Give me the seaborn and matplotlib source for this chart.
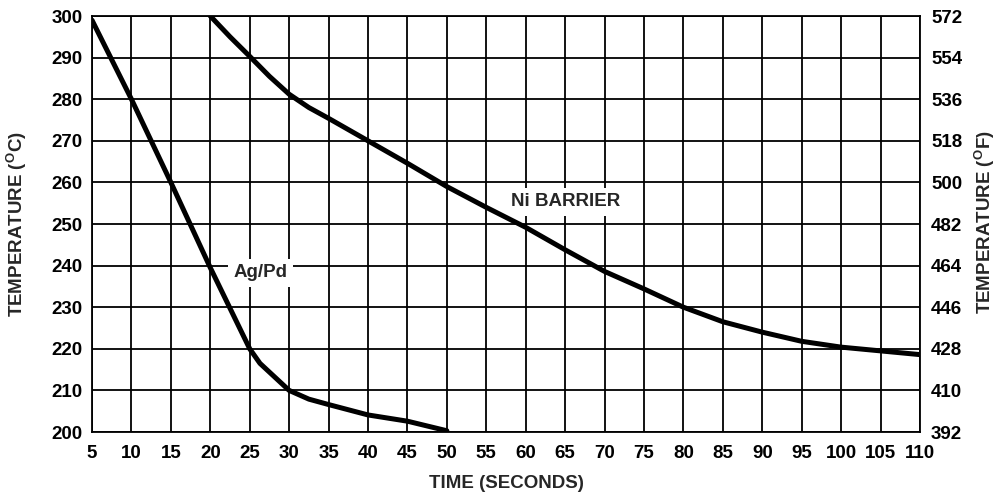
import matplotlib
matplotlib.use("Agg")
import matplotlib.pyplot as plt
import seaborn as sns
import pandas as pd
import numpy as np

# Data
agpd_time = [5, 10, 15, 20, 25, 26.3, 30, 32.5, 35, 40, 45, 50]
agpd_temp = [299, 280, 260, 239.5, 220, 216.5, 210, 207.9, 206.6, 204.1, 202.6, 200.3]
ni_time = [20, 22.5, 25, 27.5, 30, 32.5, 35, 40, 45, 50, 55, 60, 65, 70, 75, 80, 85, 90, 95, 100, 105, 110]
ni_temp = [300, 295, 290.3, 285.5, 281.2, 278, 275.4, 270, 264.6, 259, 254, 249.2, 243.8,
           238.6, 234.4, 230, 226.5, 224, 221.8, 220.4, 219.5, 218.6]
x_ticks = list(range(5, 111, 5))
c_ticks = list(range(200, 301, 10))
f_ticks = [392, 410, 428, 446, 464, 482, 500, 518, 536, 554, 572]

sns.set_style("white")
plt.rcParams["font.family"] = ["Liberation Sans", "DejaVu Sans"]
plt.rcParams["font.weight"] = "bold"
plt.rcParams["mathtext.fontset"] = "custom"
plt.rcParams["mathtext.rm"] = "Liberation Sans:bold"
plt.rcParams["mathtext.bf"] = "Liberation Sans:bold"

FS = 13.5

df = pd.concat([
    pd.DataFrame({"time": agpd_time, "temp": agpd_temp, "series": "Ag/Pd"}),
    pd.DataFrame({"time": ni_time, "temp": ni_temp, "series": "Ni BARRIER"}),
])

fig = plt.figure(figsize=(10, 4.94), dpi=100)
ax = fig.add_axes([0.092, 0.1255, 0.828, 0.8421])

for name in ["Ag/Pd", "Ni BARRIER"]:
    sub = df[df.series == name]
    sns.lineplot(data=sub, x="time", y="temp", ax=ax, color="black", lw=3.6,
                 sort=False, estimator=None, legend=False, zorder=3)

ax.set_xlim(5, 110)
ax.set_ylim(200, 300)
ax.set_xticks(x_ticks)
ax.set_yticks(c_ticks)
ax.grid(True, color="black", lw=1.3)
for s in ax.spines.values():
    s.set_color("black")
    s.set_linewidth(1.3)
ax.tick_params(axis="y", length=0, labelsize=FS, pad=7, colors="black")
ax.tick_params(axis="x", length=0, labelsize=FS, pad=9, colors="black")
for lab in ax.get_xticklabels() + ax.get_yticklabels():
    lab.set_fontweight("bold")
ax.set_xlabel("TIME (SECONDS)", fontsize=FS, fontweight="bold", labelpad=10)
ax.set_ylabel("")

ax2 = ax.twinx()
ax2.set_ylim(392, 572)
ax2.set_yticks(f_ticks)
ax2.tick_params(axis="y", length=0, labelsize=FS, pad=8, colors="black")
for lab in ax2.get_yticklabels():
    lab.set_fontweight("bold")
for s in ax2.spines.values():
    s.set_visible(False)
ax2.grid(False)
ax2.set_ylabel("")

fig.text(0.017, 0.547, "TEMPERATURE ($^{\\mathregular{O}}$C)", rotation=90, ha="center", va="center",
         fontsize=FS, fontweight="bold")
fig.text(0.985, 0.550, "TEMPERATURE ($^{\\mathregular{O}}$F)", rotation=90, ha="center", va="center",
         fontsize=FS, fontweight="bold")

ax.text(26.4, 238.3, "Ag/Pd", ha="center", va="center", fontsize=FS, fontweight="bold",
        bbox=dict(facecolor="white", edgecolor="none", pad=4), zorder=2.5)
ax.text(65, 255.3, "Ni BARRIER", ha="center", va="center", fontsize=FS, fontweight="bold",
        bbox=dict(facecolor="white", edgecolor="none", pad=4), zorder=2.5)

fig.savefig("out.png", dpi=100)
